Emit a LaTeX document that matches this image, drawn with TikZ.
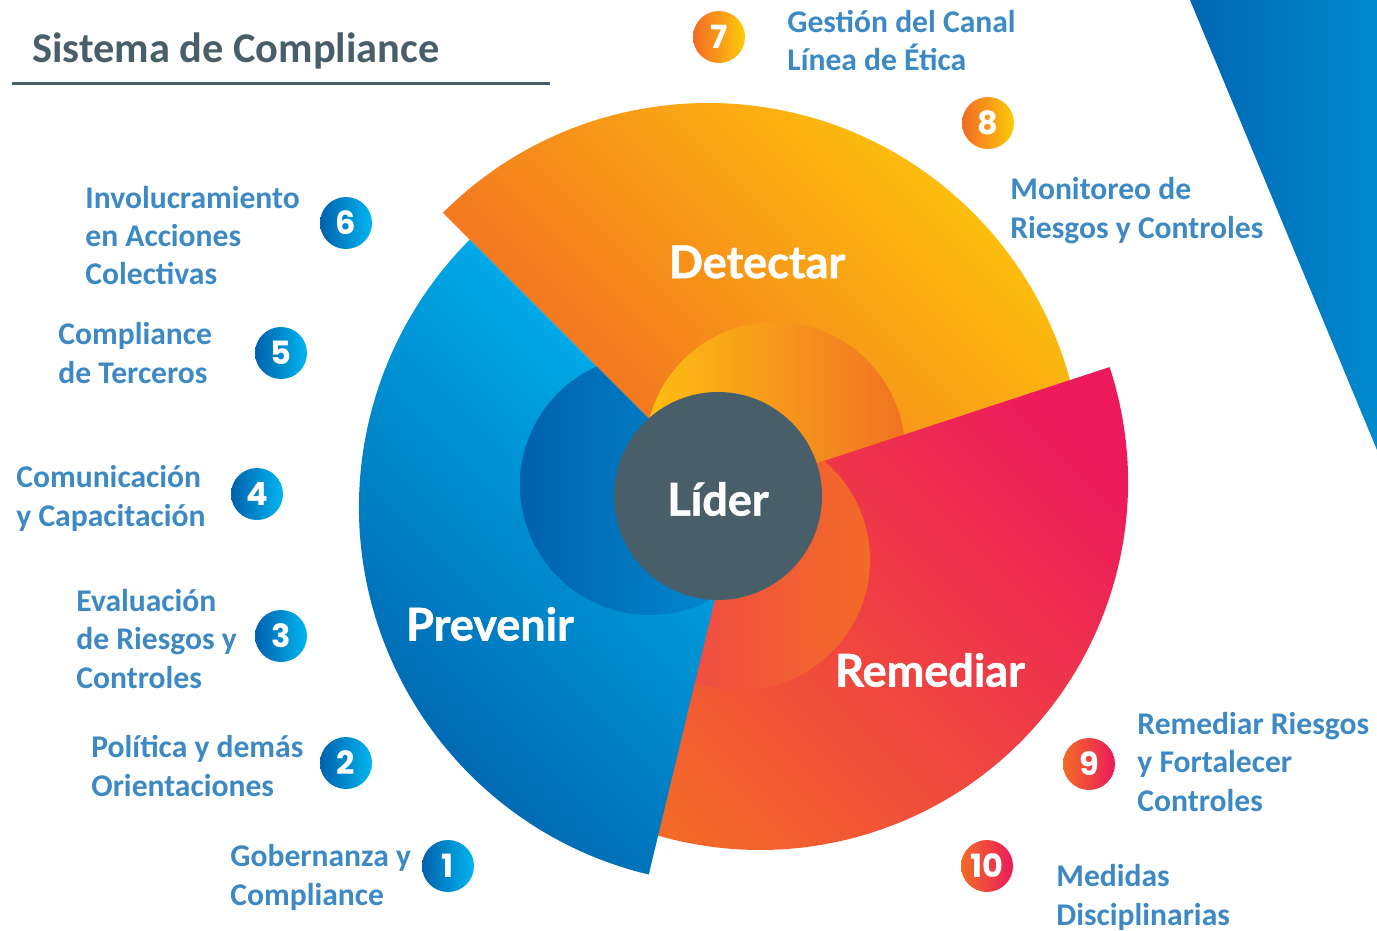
\documentclass[tikz,border=0pt]{standalone}
\usepackage{fontspec}
\setmainfont{Carlito}
\newfontfamily\bigfont{Lato}[BoldFeatures={FakeBold=1.3}]
\newfontfamily\numfont{Poppins}
\definecolor{slate}{HTML}{485F6A}
\definecolor{lblue}{HTML}{3D89C3}
\definecolor{oyel}{HTML}{FECB0A}
\definecolor{oorg}{HTML}{F26A24}
\definecolor{iyel}{HTML}{FDBE12}
\definecolor{iorg}{HTML}{F07323}
\definecolor{rcrim}{HTML}{EC1A5C}
\definecolor{rorg}{HTML}{F36C26}
\definecolor{ired}{HTML}{EE4150}
\definecolor{iredo}{HTML}{F36A27}
\definecolor{bcyan}{HTML}{00B6F0}
\definecolor{bdark}{HTML}{005FAB}
\definecolor{ibdark}{HTML}{0061AD}
\definecolor{iblight}{HTML}{0095D9}
\definecolor{tdark}{HTML}{0066B2}
\definecolor{tlight}{HTML}{008ACE}
\tikzset{
  bigword/.style={text=white, font=\bigfont\bfseries\fontsize{22.5pt}{26pt}\selectfont, inner sep=0},
  lbl/.style={text=lblue, anchor=base west, align=left, inner sep=0,
    font=\bfseries\fontsize{15.8pt}{19.25pt}\selectfont},
  num/.style={circle, minimum size=26pt, inner sep=0, text=white,
    font=\numfont\bfseries\fontsize{16pt}{18pt}\selectfont},
  numb/.style={num, left color=ibdark, right color=bcyan},
  numo/.style={num, left color=oorg, right color=oyel},
  numr/.style={num, left color=rorg, right color=rcrim},
}
\begin{document}
\begin{tikzpicture}[x=0.5pt,y=-0.5pt]
\useasboundingbox (0,0) rectangle (1377,931);
% top-right triangle
\shade[left color=tdark, right color=tlight] (1190,0) -- (1377,0) -- (1377,450) -- cycle;
% title
\node[anchor=base west, inner sep=0, text=slate, font=\bfseries\fontsize{21.2pt}{24pt}\selectfont] (title) at (32,63) {Sistema de Compliance};
\coordinate (ul1) at (12,83.5);
\coordinate (ul2) at (550,83.5);
\draw[slate, line width=1.75pt] (ul1) -- (ul2);
% Detectar (orange)
\shade[top color=oyel, bottom color=oorg, shading angle=-45]
  (708,478) -- ++(225:375) arc[start angle=225, end angle=360, radius=375] -- cycle;
\begin{scope}
  \clip (708,478) -- ++(225:375) arc[start angle=225, end angle=360, radius=375] -- cycle;
  \shade[left color=iyel, right color=iorg] (775,452) circle[radius=130];
\end{scope}
% Remediar (red)
\shade[top color=rcrim, bottom color=rorg, shading angle=-45]
  (760,482) -- ++(-18.2:368) arc[start angle=-18.2, end angle=130, radius=368] -- cycle;
\begin{scope}
  \clip (760,482) -- ++(-18.2:368) arc[start angle=-18.2, end angle=130, radius=368] -- cycle;
  \shade[left color=ired, right color=iredo] (740,560) circle[radius=130];
\end{scope}
% Prevenir (blue)
\shade[top color=bcyan, bottom color=bdark, shading angle=-45]
  (737,507) -- ++(103.5:378) arc[start angle=103.5, end angle=225, radius=378] -- cycle;
\begin{scope}
  \clip (737,507) -- ++(103.5:378) arc[start angle=103.5, end angle=225, radius=378] -- cycle;
  \shade[left color=ibdark, right color=iblight] (650,485) circle[radius=130];
\end{scope}
% centre
\node[circle, fill=slate, minimum size=104pt, inner sep=0] (lider) at (718,496) {};
\node[bigword] (lidertxt) at (718,499) {Líder};
\node[bigword] (detectar) at (757,262) {Detectar};
\node[bigword] (prevenir) at (490,624) {Prevenir};
\node[bigword] (remediar) at (930,670) {Remediar};
% numbered circles
\node[numb] (n1) at (448,866) {1};
\node[numb] (n2) at (346,763) {2};
\node[numb] (n3) at (281,636) {3};
\node[numb] (n4) at (257,494) {4};
\node[numb] (n5) at (281,353) {5};
\node[numb] (n6) at (346,223) {6};
\node[numo] (n7) at (719,37) {7};
\node[numo] (n8) at (988,123) {8};
\node[numr] (n9) at (1089,764) {9};
\node[numr] (n10) at (987,866) {10};
% labels (anchored at the baseline of their last line)
\node[lbl] (l6) at (85,285) {Involucramiento\\en Acciones\\Colectivas};
\node[lbl] (l5) at (58,383) {Compliance\\de Terceros};
\node[lbl] (l4) at (16,526) {Comunicación\\y Capacitación};
\node[lbl] (l3) at (76,688) {Evaluación\\de Riesgos y\\Controles};
\node[lbl] (l2) at (91,796) {Política y demás\\Orientaciones};
\node[lbl] (l1) at (230,905) {Gobernanza y\\Compliance};
\node[lbl] (l7) at (787,71) {Gestión del Canal\\Línea de Ética};
\node[lbl] (l8) at (1010,238) {Monitoreo de\\Riesgos y Controles};
\node[lbl] (l9) at (1137,811) {Remediar Riesgos\\y Fortalecer\\Controles};
\node[lbl] (l10) at (1056,925) {Medidas\\Disciplinarias};
\end{tikzpicture}
\end{document}
